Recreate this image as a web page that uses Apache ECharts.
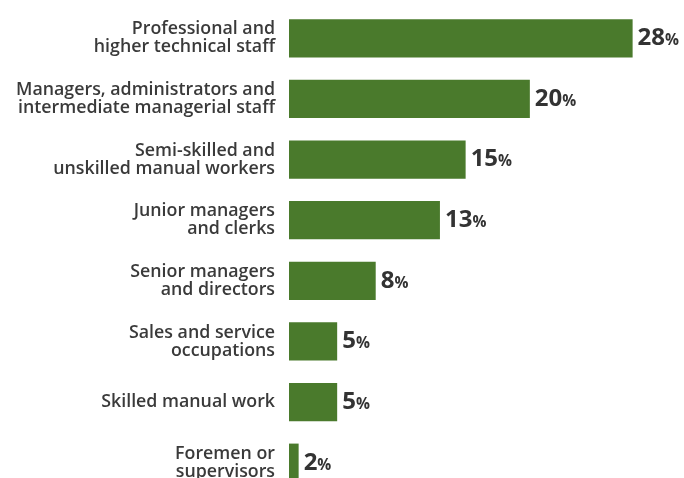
<!DOCTYPE html>
<html><head><meta charset="utf-8">
<script src="https://cdn.jsdelivr.net/npm/echarts@6/dist/echarts.min.js"></script>
<style>html,body{margin:0;padding:0;background:#fff;overflow:hidden}#c{width:684px;height:493px}</style>
</head><body><div id="c"></div>
<script>
const categories = [
  "Professional and\nhigher technical staff",
  "Managers, administrators and\nintermediate managerial staff",
  "Semi-skilled and\nunskilled manual workers",
  "Junior managers\nand clerks",
  "Senior managers\nand directors",
  "Sales and service\noccupations",
  "Skilled manual work",
  "Foremen or\nsupervisors"
];
const values = [28, 20, 15, 13, 8, 5, 5, 2];

const chart = echarts.init(document.getElementById('c'), null, {renderer: 'canvas'});
chart.setOption({
  animation: false,
  grid: {left: 289, top: 8, width: 395, bottom: 0, containLabel: false},
  xAxis: {type: 'value', min: 1.25, max: 32, show: false},
  yAxis: {
    type: 'category', data: categories, inverse: true,
    axisLine: {show: false}, axisTick: {show: false}, splitLine: {show: false},
    axisLabel: {margin: 14, color: '#3a3a3a', fontSize: 17.8, fontFamily: 'Open Sans', fontWeight: 600, lineHeight: 18, align: 'right', padding: [0, 0, 4, 0]}
  },
  series: [{
    type: 'bar', data: values, barCategoryGap: '37%',
    itemStyle: {color: '#4a7a2c'},
    label: {
      show: true, position: 'right', distance: 5,
      formatter: p => '{n|' + p.value + '}{p|%}',
      rich: {
        n: {fontSize: 24, fontWeight: 'bold', color: '#333', fontFamily: 'Open Sans'},
        p: {fontSize: 15.5, fontWeight: 'bold', color: '#333', fontFamily: 'Open Sans', padding: [5, 0, 0, 0]}
      }
    }
  }]
});
</script></body></html>
